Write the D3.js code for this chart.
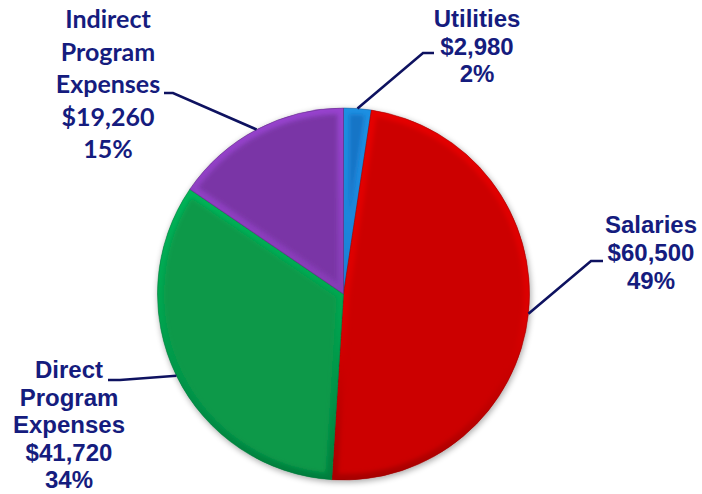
<!DOCTYPE html>
<html>
<head>
<meta charset="utf-8">
<script src="https://cdn.jsdelivr.net/npm/d3@7"></script>
<style>
  html, body { margin: 0; padding: 0; background: #fff; }
  svg { display: block; }
</style>
</head>
<body>
<svg id="chart" width="702" height="494"></svg>
<script>
// data
const categories = ['Utilities', 'Salaries', 'Direct Program Expenses', 'Indirect Program Expenses'];
const amounts = [2980, 60500, 41720, 19260];
const percentLabels = ['2%', '49%', '34%', '15%'];
const colors = ['#1874c6', '#cc0000', '#08994a', '#7a36a6'];

// label layout (hand placed, like the original)
const labelLines = [
  ['Utilities', '$2,980', '2%'],
  ['Salaries', '$60,500', '49%'],
  ['Direct', 'Program', 'Expenses', '$41,720', '34%'],
  ['Indirect', 'Program', 'Expenses', '$19,260', '15%']
];
const labelSpots = [
  { x: 477, y: 27, step: 27.5, font: "'Liberation Sans', Arial, sans-serif", size: 24 },
  { x: 651, y: 233, step: 28, font: "'Liberation Sans', Arial, sans-serif", size: 24 },
  { x: 69, y: 378, step: 27.5, font: "'Liberation Sans', Arial, sans-serif", size: 24 },
  { x: 108, y: 28, step: 32.5, font: "Lato, sans-serif", size: 25 }
];
const elbows = [
  [[423, 53], [434, 53]],
  [[591, 261], [603, 261]],
  [[120, 380], [108, 380]],
  [[173, 93], [164, 93]]
];

const cx = 343.5, cy = 294, radius = 186;
const textColor = '#151c7e';
const lineColor = '#0e1260';

const svg = d3.select('#chart');
const defs = svg.append('defs');

const shadow = defs.append('filter').attr('id', 'shadow')
  .attr('x', '-10%').attr('y', '-10%').attr('width', '120%').attr('height', '120%');
shadow.append('feGaussianBlur').attr('in', 'SourceAlpha').attr('stdDeviation', 3).attr('result', 'b');
shadow.append('feOffset').attr('in', 'b').attr('dx', 1).attr('dy', 2).attr('result', 'o');
shadow.append('feComponentTransfer').attr('in', 'o').attr('result', 'o2')
  .append('feFuncA').attr('type', 'linear').attr('slope', 0.35);
const merge = shadow.append('feMerge');
merge.append('feMergeNode').attr('in', 'o2');
merge.append('feMergeNode').attr('in', 'SourceGraphic');

const soft = defs.append('filter').attr('id', 'soft');
soft.append('feGaussianBlur').attr('stdDeviation', 2.2);

const pie = d3.pie().sort(null).value(d => d);
const arcs = pie(amounts);
const arc = d3.arc().innerRadius(0).outerRadius(radius);

// per-slice bevel gradient: light at top, dark at bottom
colors.forEach((c, i) => {
  const g = defs.append('linearGradient').attr('id', 'bevel' + i)
    .attr('gradientUnits', 'userSpaceOnUse')
    .attr('x1', 0).attr('y1', -radius).attr('x2', 0).attr('y2', radius);
  g.append('stop').attr('offset', '0%').attr('stop-color', d3.color(c).brighter(1.1));
  g.append('stop').attr('offset', '55%').attr('stop-color', d3.color(c).brighter(0.4));
  g.append('stop').attr('offset', '100%').attr('stop-color', d3.color(c).darker(1.2));
  defs.append('clipPath').attr('id', 'clip' + i)
    .append('path').attr('d', arc(arcs[i]));
});

const pieG = svg.append('g').attr('transform', `translate(${cx},${cy})`);
const base = pieG.append('g').attr('filter', 'url(#shadow)');

const slices = base.selectAll('g.slice').data(arcs).enter()
  .append('g').attr('class', 'slice');

slices.append('path')
  .attr('d', arc)
  .attr('fill', (d, i) => colors[i]);

slices.append('g')
  .attr('clip-path', (d, i) => `url(#clip${i})`)
  .append('path')
  .attr('d', arc)
  .attr('fill', 'none')
  .attr('stroke', (d, i) => `url(#bevel${i})`)
  .attr('stroke-width', 12)
  .attr('stroke-opacity', 0.5)
  .attr('filter', 'url(#soft)');

slices.append('path')
  .attr('d', arc)
  .attr('fill', 'none')
  .attr('stroke', (d, i) => d3.color(colors[i]).darker(0.9))
  .attr('stroke-width', 0.8)
  .attr('stroke-opacity', 0.6);

// leader lines from slice mid-angle on the rim
const rimArc = d3.arc().innerRadius(radius).outerRadius(radius);
arcs.forEach((d, i) => {
  const c = rimArc.centroid(d);
  const pts = [[cx + c[0], cy + c[1]], ...elbows[i]];
  svg.append('path')
    .attr('d', d3.line()(pts))
    .attr('fill', 'none')
    .attr('stroke', lineColor)
    .attr('stroke-width', 2.6);
});

// labels
labelLines.forEach((lines, i) => {
  const s = labelSpots[i];
  const t = svg.append('text')
    .attr('text-anchor', 'middle')
    .attr('font-family', s.font)
    .attr('font-weight', 'bold')
    .attr('font-size', s.size + 'px')
    .attr('fill', textColor);
  lines.forEach((ln, k) => {
    t.append('tspan').attr('x', s.x).attr('y', s.y + k * s.step).text(ln);
  });
});
</script>
</body>
</html>
